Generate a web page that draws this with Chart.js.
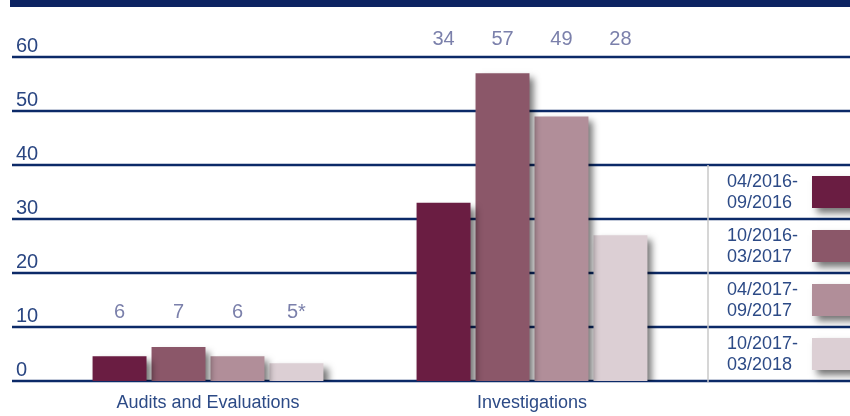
<!DOCTYPE html>
<html>
<head>
<meta charset="utf-8">
<script src="https://cdn.jsdelivr.net/npm/chart.js@4/dist/chart.umd.min.js"></script>
<style>
    body { margin: 0; background: #ffffff; }
    #wrap { position: relative; width: 850px; height: 416px; }
</style>
</head>
<body>
<div id="wrap"><canvas id="oigChart"></canvas></div>
<script>
// Categories and reporting periods
var categories = ['Audits and Evaluations', 'Investigations'];
var periods = [
    ['04/2016-', '09/2016'],
    ['10/2016-', '03/2017'],
    ['04/2017-', '09/2017'],
    ['10/2017-', '03/2018']
];

// Bar heights as drawn in the picture, one array per period
var period1 = [4.6, 33];
var period2 = [6.3, 57];
var period3 = [4.6, 49];
var period4 = [3.3, 27];

// Printed value labels above each group
var labels1 = ['6', '34'];
var labels2 = ['7', '57'];
var labels3 = ['6', '49'];
var labels4 = ['5*', '28'];

var yTicks = [0, 10, 20, 30, 40, 50, 60];
var colors = ['#6a1d42', '#8b5769', '#b18e99', '#dccfd4'];

var NAVY = '#0c2a68';
var FONT = '"Liberation Sans", Arial, sans-serif';

var seriesValues = [period1, period2, period3, period4];
var seriesLabels = [labels1, labels2, labels3, labels4];

var datasets = seriesValues.map(function(vals, i) {
    return {
        label: periods[i].join(''),
        data: vals,
        backgroundColor: colors[i],
        borderWidth: 0,
        categoryPercentage: 0.728,
        barPercentage: 0.915
    };
});

// grid lines, tick labels, top rule
var backdrop = {
    id: 'backdrop',
    beforeDatasetsDraw: function(chart) {
        var ctx = chart.ctx;
        var y = chart.scales.y;
        ctx.save();
        ctx.fillStyle = '#0d2462';
        ctx.fillRect(10, 0, 840, 7);

        ctx.strokeStyle = NAVY;
        ctx.lineWidth = 2.5;
        ctx.font = '20px ' + FONT;
        ctx.fillStyle = '#2a4682';
        ctx.textAlign = 'left';
        ctx.textBaseline = 'alphabetic';
        yTicks.forEach(function(t) {
            var py = Math.round(y.getPixelForValue(t));
            ctx.beginPath();
            ctx.moveTo(12, py);
            ctx.lineTo(850, py);
            ctx.stroke();
            ctx.fillText(String(t), 16, py - 5);
        });
        ctx.restore();
    },
    beforeDatasetDraw: function(chart) {
        var ctx = chart.ctx;
        ctx.save();
        ctx.shadowColor = 'rgba(0,0,0,0.55)';
        ctx.shadowBlur = 7;
        ctx.shadowOffsetX = 5;
        ctx.shadowOffsetY = 5;
    },
    afterDatasetDraw: function(chart) {
        chart.ctx.restore();
    }
};

// value labels, category labels and the legend table
var annotations = {
    id: 'annotations',
    afterDatasetsDraw: function(chart) {
        var ctx = chart.ctx;
        var x = chart.scales.x;
        var y = chart.scales.y;
        ctx.save();

        // value labels
        ctx.font = '20px ' + FONT;
        ctx.fillStyle = '#7b80ab';
        ctx.textAlign = 'center';
        ctx.textBaseline = 'middle';
        categories.forEach(function(c, ci) {
            var top = Infinity;
            seriesValues.forEach(function(vals, si) {
                var bar = chart.getDatasetMeta(si).data[ci];
                top = Math.min(top, bar.y);
            });
            seriesValues.forEach(function(vals, si) {
                var bar = chart.getDatasetMeta(si).data[ci];
                ctx.fillText(seriesLabels[si][ci], bar.x, top - 34);
            });
        });

        // category labels
        ctx.font = '18px ' + FONT;
        ctx.fillStyle = '#2c4a86';
        categories.forEach(function(c, ci) {
            ctx.fillText(c, x.getPixelForValue(ci), 403);
        });

        // legend table
        var rowTop = y.getPixelForValue(40);
        var rowBottom = y.getPixelForValue(0);
        ctx.strokeStyle = '#c9c9c9';
        ctx.lineWidth = 1.5;
        ctx.beginPath();
        ctx.moveTo(708, rowTop);
        ctx.lineTo(708, rowBottom + 1);
        ctx.stroke();

        ctx.textAlign = 'left';
        periods.forEach(function(p, i) {
            var a = y.getPixelForValue(40 - 10 * i);
            var b = y.getPixelForValue(30 - 10 * i);
            var mid = (a + b) / 2;
            ctx.fillStyle = '#2c4a86';
            ctx.fillText(p[0], 727, mid - 10);
            ctx.fillText(p[1], 727, mid + 11);

            ctx.save();
            ctx.shadowColor = 'rgba(0,0,0,0.55)';
            ctx.shadowBlur = 7;
            ctx.shadowOffsetX = 5;
            ctx.shadowOffsetY = 5;
            ctx.fillStyle = colors[i];
            ctx.fillRect(812, mid - 16, 50, 32);
            ctx.restore();
        });
        ctx.restore();
    }
};

new Chart(document.getElementById('oigChart'), {
    type: 'bar',
    data: { labels: categories, datasets: datasets },
    options: {
        responsive: true,
        maintainAspectRatio: false,
        animation: false,
        layout: { padding: { left: 46, right: 156, top: 57, bottom: 35 } },
        plugins: { legend: { display: false }, tooltip: { enabled: false } },
        scales: {
            x: { display: false },
            y: { display: false, min: 0, max: 60 }
        }
    },
    plugins: [backdrop, annotations]
});
</script>
</body>
</html>
